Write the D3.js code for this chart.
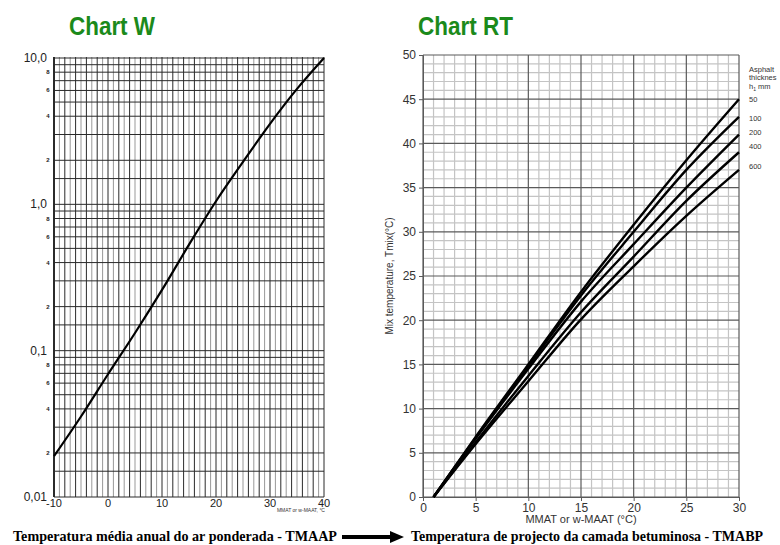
<!DOCTYPE html>
<html>
<head>
<meta charset="utf-8">
<script src="https://cdn.jsdelivr.net/npm/d3@7"></script>
<style>
  body { margin: 0; background: #fff; }
  svg { display: block; font-family: 'Liberation Sans', Arial, sans-serif; }
</style>
</head>
<body>
<svg id="chart" width="780" height="545"></svg>
<script>
// Chart W: weighting factor vs air temperature (log scale)
const wTemps = [-10, -5, 0, 5, 10, 15, 20, 25, 30, 35, 40];
const wFactor = [0.019, 0.0355, 0.069, 0.132, 0.26, 0.53, 1.05, 1.95, 3.55, 6.15, 10.0];
const wXTicks = [-10, 0, 10, 20, 30, 40];
const wYMajor = [0.01, 0.1, 1, 10];
const wYMajorLabels = ['0,01', '0,1', '1,0', '10,0'];
const wYMinorDigits = [2, 4, 6, 8];
const wGridMultiples = [1, 1.5, 2, 3, 4, 5, 6, 7, 8, 9];

// Chart RT: mix temperature vs MMAT per asphalt thickness
const rtTemps = [1, 5, 10, 15, 20, 25, 30];
const rtThickness = [50, 100, 200, 400, 600];
const rtMix50 = [0, 6.8, 15.0, 23.2, 30.8, 38.1, 45];
const rtMix100 = [0, 6.7, 14.8, 22.8, 30.0, 37.0, 43];
const rtMix200 = [0, 6.6, 14.5, 22.1, 28.6, 35.0, 41];
const rtMix400 = [0, 6.2, 13.7, 20.9, 27.2, 33.5, 39];
const rtMix600 = [0, 6.0, 13.1, 20.1, 26.1, 31.8, 37];
const rtXTicks = [0, 5, 10, 15, 20, 25, 30];
const rtYTicks = [0, 5, 10, 15, 20, 25, 30, 35, 40, 45, 50];

const svg = d3.select('#chart');

// titles
svg.append('text')
  .attr('x', 69).attr('y', 35)
  .attr('textLength', 86).attr('lengthAdjust', 'spacingAndGlyphs')
  .attr('fill', '#1b8a1b')
  .style('font-size', '25px').style('font-weight', 'bold')
  .text('Chart W');

svg.append('text')
  .attr('x', 418).attr('y', 35)
  .attr('textLength', 95).attr('lengthAdjust', 'spacingAndGlyphs')
  .attr('fill', '#1b8a1b')
  .style('font-size', '25px').style('font-weight', 'bold')
  .text('Chart RT');

// ---------- Chart W ----------
const xW = d3.scaleLinear().domain([-10, 40]).range([54, 324]);
const yW = d3.scaleLog().domain([0.01, 10]).range([497, 58]);

const gW = svg.append('g').attr('id', 'chartW');

const wVert = d3.range(-10, 41, 1);
gW.append('g')
  .selectAll('line')
  .data(wVert)
  .enter()
  .append('line')
  .attr('x1', d => xW(d)).attr('x2', d => xW(d))
  .attr('y1', yW(10) - 1).attr('y2', yW(0.01))
  .attr('stroke', (d, i) => (i % 2 === 0 ? '#2a2a2a' : '#999'))
  .attr('stroke-width', (d, i) => (i === 0 ? 2 : 1));

const wHoriz = [];
[0.01, 0.1, 1].forEach(dec => wGridMultiples.forEach(m => wHoriz.push(dec * m)));
wHoriz.push(10);

gW.append('g')
  .selectAll('line')
  .data(wHoriz)
  .enter()
  .append('line')
  .attr('x1', xW(-10)).attr('x2', xW(40))
  .attr('y1', d => yW(d)).attr('y2', d => yW(d))
  .attr('stroke', '#2a2a2a')
  .attr('stroke-width', 1);

const wLine = d3.line()
  .x(d => xW(d[0]))
  .y(d => yW(d[1]))
  .curve(d3.curveCatmullRom);

gW.append('path')
  .datum(wTemps.map((t, i) => [t, wFactor[i]]))
  .attr('d', wLine)
  .attr('fill', 'none')
  .attr('stroke', '#000')
  .attr('stroke-width', 2.2);

gW.append('g')
  .selectAll('text')
  .data(wXTicks)
  .enter()
  .append('text')
  .attr('x', d => xW(d))
  .attr('y', 507)
  .attr('text-anchor', 'middle')
  .attr('fill', '#222')
  .style('font-size', '11px')
  .text(d => d);

gW.append('g')
  .selectAll('text')
  .data(wYMajor)
  .enter()
  .append('text')
  .attr('x', 47)
  .attr('y', d => yW(d))
  .attr('dy', 4)
  .attr('text-anchor', 'end')
  .attr('fill', '#222')
  .style('font-size', '12px')
  .text((d, i) => wYMajorLabels[i]);

const wMinor = [];
[0.01, 0.1, 1].forEach(dec => wYMinorDigits.forEach(m => wMinor.push({ v: dec * m, label: m })));

gW.append('g')
  .selectAll('text')
  .data(wMinor)
  .enter()
  .append('text')
  .attr('x', 48)
  .attr('y', d => yW(d.v))
  .attr('dy', 2)
  .attr('text-anchor', 'middle')
  .attr('fill', '#222')
  .style('font-size', '6px')
  .style('font-weight', 'bold')
  .text(d => d.label);

gW.append('text')
  .attr('x', 325).attr('y', 512)
  .attr('text-anchor', 'end')
  .attr('fill', '#333')
  .style('font-size', '5px')
  .text('MMAT or w-MAAT, °C');

// ---------- Chart RT ----------
const xR = d3.scaleLinear().domain([0, 30]).range([423, 739]);
const yR = d3.scaleLinear().domain([0, 50]).range([497, 55]);

const gR = svg.append('g').attr('id', 'chartRT');

gR.append('g')
  .selectAll('line')
  .data(d3.range(0, 31, 1).filter(d => d % 5 !== 0))
  .enter()
  .append('line')
  .attr('x1', d => xR(d)).attr('x2', d => xR(d))
  .attr('y1', yR(50)).attr('y2', yR(0))
  .attr('stroke', '#c4c4c4').attr('stroke-width', 1.2);

gR.append('g')
  .selectAll('line')
  .data(d3.range(0, 51, 1).filter(d => d % 5 !== 0))
  .enter()
  .append('line')
  .attr('x1', xR(0)).attr('x2', xR(30))
  .attr('y1', d => yR(d)).attr('y2', d => yR(d))
  .attr('stroke', '#c4c4c4').attr('stroke-width', 1.2);

gR.append('g')
  .selectAll('line')
  .data(rtXTicks)
  .enter()
  .append('line')
  .attr('x1', d => xR(d)).attr('x2', d => xR(d))
  .attr('y1', yR(50)).attr('y2', yR(0))
  .attr('stroke', '#5a5a5a').attr('stroke-width', 1.2);

gR.append('g')
  .selectAll('line')
  .data(rtYTicks)
  .enter()
  .append('line')
  .attr('x1', xR(0)).attr('x2', xR(30))
  .attr('y1', d => yR(d)).attr('y2', d => yR(d))
  .attr('stroke', '#5a5a5a').attr('stroke-width', 1.2);

const xAxisR = gR.append('g')
  .attr('transform', `translate(0,${yR(0)})`)
  .call(d3.axisBottom(xR).tickValues(rtXTicks).tickSize(4).tickPadding(2));
const yAxisR = gR.append('g')
  .attr('transform', `translate(${xR(0)},0)`)
  .call(d3.axisLeft(yR).tickValues(rtYTicks).tickSize(4).tickPadding(3));

[xAxisR, yAxisR].forEach(ax => {
  ax.select('.domain').attr('stroke', '#5a5a5a');
  ax.selectAll('line').attr('stroke', '#5a5a5a');
  ax.selectAll('text')
    .attr('fill', '#333')
    .style('font-size', '12px')
    .style('font-family', "'Liberation Sans', Arial, sans-serif");
});

const rtSeries = [rtMix50, rtMix100, rtMix200, rtMix400, rtMix600];

const rtLine = d3.line()
  .x(d => xR(d[0]))
  .y(d => yR(d[1]))
  .curve(d3.curveMonotoneX);

gR.append('g')
  .selectAll('path')
  .data(rtSeries)
  .enter()
  .append('path')
  .attr('d', s => rtLine(rtTemps.map((t, i) => [t, s[i]])))
  .attr('fill', 'none')
  .attr('stroke', '#000')
  .attr('stroke-width', 2.4);

// legend
const legend = gR.append('g')
  .attr('fill', '#333')
  .style('font-size', '7.5px');

legend.append('text').attr('x', 749).attr('y', 72).text('Asphalt');
legend.append('text').attr('x', 749).attr('y', 80).text('thicknes');
const hText = legend.append('text').attr('x', 749).attr('y', 89);
hText.append('tspan').text('h');
hText.append('tspan').attr('dy', 1.5).style('font-size', '5px').text('1');
hText.append('tspan').attr('dy', -1.5).text(' mm');

const labelShift = [3, 4, 0, -3, -1];
legend.selectAll('.thk')
  .data(rtThickness)
  .enter()
  .append('text')
  .attr('class', 'thk')
  .attr('x', 749)
  .attr('y', (d, i) => yR(rtSeries[i][rtSeries[i].length - 1]) + labelShift[i])
  .text(d => d);

gR.append('text')
  .attr('x', xR(15)).attr('y', 523)
  .attr('text-anchor', 'middle')
  .attr('fill', '#333')
  .style('font-size', '11px')
  .text('MMAT or w-MAAT (°C)');

gR.append('text')
  .attr('transform', `translate(393,${yR(25)}) rotate(-90)`)
  .attr('text-anchor', 'middle')
  .attr('fill', '#333')
  .style('font-size', '10px')
  .text('Mix temperature, Tmix(°C)');

// ---------- bottom captions ----------
svg.append('text')
  .attr('x', 13).attr('y', 541)
  .attr('textLength', 324).attr('lengthAdjust', 'spacingAndGlyphs')
  .attr('fill', '#000')
  .style('font-family', "'Liberation Serif', 'Times New Roman', serif")
  .style('font-size', '14px').style('font-weight', 'bold')
  .text('Temperatura média anual do ar ponderada - TMAAP');

svg.append('line')
  .attr('x1', 342).attr('x2', 393)
  .attr('y1', 537).attr('y2', 537)
  .attr('stroke', '#000').attr('stroke-width', 4);
svg.append('path')
  .attr('d', 'M390,531 L404,537 L390,543 Z')
  .attr('fill', '#000');

svg.append('text')
  .attr('x', 411).attr('y', 541)
  .attr('textLength', 352).attr('lengthAdjust', 'spacingAndGlyphs')
  .attr('fill', '#000')
  .style('font-family', "'Liberation Serif', 'Times New Roman', serif")
  .style('font-size', '14px').style('font-weight', 'bold')
  .text('Temperatura de projecto da camada betuminosa - TMABP');
</script>
</body>
</html>
